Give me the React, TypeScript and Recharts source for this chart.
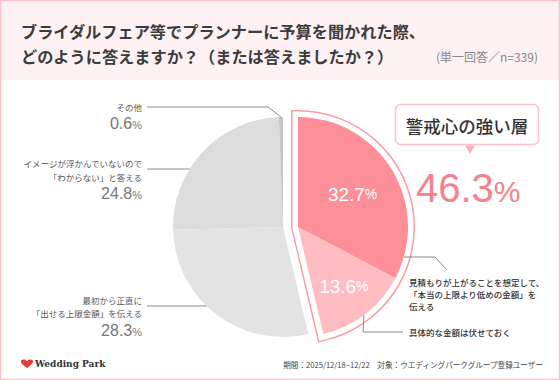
import { PieChart, Pie, Cell } from 'recharts';

// survey answers, clockwise from 12 o'clock
const categories = [
  '本当の上限より低めの金額を伝える',
  '具体的な金額は伏せておく',
  '出せる上限金額を伝える',
  'わからないと答える',
  'その他',
];
const shares = [32.7, 13.6, 28.3, 24.8, 0.6];
const labelText = [
  ['見積もりが上がることを想定して、', '「本当の上限より低めの金額」を', '伝える'],
  ['具体的な金額は伏せておく'],
  ['最初から正直に', '「出せる上限金額」を伝える'],
  ['イメージが浮かんでいないので', '「わからない」と答える'],
  ['その他'],
];
// the first two answers form the highlighted group
const waryCount = 2;
const groupLabel = '警戒心の強い層';
const titleLines = [
  'ブライダルフェア等でプランナーに予算を聞かれた際、',
  'どのように答えますか？（または答えましたか？）',
];
const sampleNote = '(単一回答／n=339)';
const footerNote = '期間：2025/12/18~12/22　対象：ウエディングパークグループ登録ユーザー';
const brand = 'Wedding Park';

const sliceColors = ['#fd8f98', '#ffbcc1', '#e3e3e3', '#dcdcdc', '#c6c6c6'];
const JP = "'Noto Sans CJK JP', sans-serif";
const NUM = "'Liberation Sans', Arial, 'Noto Sans CJK JP', sans-serif";
const RAD = Math.PI / 180;

const CX = 278;
const CY = 222;
const R = 110;
const SHIFT = 15;
const LEFT_X = 142;

// label layout (not data)
const leftLayout: any[] = [
  null,
  null,
  { lineY: 306, textY: [300, 313], pctY: 336 },
  { lineY: 169, textY: [163, 177], pctY: 199 },
  { lineY: 107, elbowX: 268, textY: [107], pctY: 129 },
];
const rightLayout: any[] = [
  { inR: 0.58, startY: 257, via: [435, 257], end: [447, 270], textY: [282, 294, 306] },
  { inR: 0.68, startY: 315, via: [363, 332], end: [403, 332], textY: [332] },
];

const pct = (v: number, big: number, small: number) => [
  <tspan key="n" fontSize={big}>{v.toFixed(1)}</tspan>,
  <tspan key="p" fontSize={small}>%</tspan>,
];

const renderGrayLabel = (p: any) => {
  const lay = leftLayout[p.index];
  if (!lay) return <g />;
  const { cx, cy, outerRadius: r, midAngle } = p;
  let pts: string;
  if (lay.elbowX) {
    const ax = cx + r * Math.cos(-midAngle * RAD);
    const ay = cy + r * Math.sin(-midAngle * RAD);
    pts = `${LEFT_X + 5},${lay.lineY} ${lay.elbowX},${lay.lineY} ${ax},${ay}`;
  } else {
    const ex = cx - Math.sqrt(r * r - (lay.lineY - cy) ** 2);
    pts = `${LEFT_X + 5},${lay.lineY} ${ex},${lay.lineY}`;
  }
  return (
    <g>
      <polyline points={pts} fill="none" stroke="#8a8a8a" strokeWidth={1} />
      {labelText[p.index].map((t, k) => (
        <text key={k} x={LEFT_X} y={lay.textY[k]} textAnchor="end" dominantBaseline="central"
          fontFamily={JP} fontSize={8.5} fill="#555">{t}</text>
      ))}
      <text x={LEFT_X} y={lay.pctY} textAnchor="end" fontFamily={NUM} fill="#777">
        {pct(shares[p.index], 16, 11)}
      </text>
    </g>
  );
};

const renderPinkLabel = (p: any) => {
  const lay = rightLayout[p.index];
  if (!lay) return <g />;
  const { cx, cy, outerRadius: r, midAngle } = p;
  const ix = cx + lay.inR * r * Math.cos(-midAngle * RAD);
  const iy = cy + lay.inR * r * Math.sin(-midAngle * RAD);
  const sx = cx + Math.sqrt(r * r - (lay.startY - cy) ** 2);
  const pts = `${sx},${lay.startY} ${lay.via[0]},${lay.via[1]} ${lay.end[0]},${lay.end[1]}`;
  return (
    <g>
      <text x={ix} y={iy} textAnchor="middle" dominantBaseline="central" fontFamily={NUM} fill="#fff">
        {pct(shares[p.index], 19, 14)}
      </text>
      <polyline points={pts} fill="none" stroke="#8a8a8a" strokeWidth={1} />
      {labelText[p.index].map((t, k) => (
        <text key={k} x={409} y={lay.textY[k]} dominantBaseline="central"
          fontFamily={JP} fontSize={8.5} fontWeight={500} fill="#333">{t}</text>
      ))}
    </g>
  );
};

export default function App() {
  const data = categories.map((name, i) => ({ name, value: shares[i] }));
  const waryTotal = shares.slice(0, waryCount).reduce((a, b) => a + b, 0);
  const restTotal = shares.slice(waryCount).reduce((a, b) => a + b, 0);
  const outline = [
    { name: groupLabel, value: waryTotal },
    { name: 'rest', value: restTotal },
  ];

  return (
    <div style={{ position: 'absolute', left: 0, top: 0, width: 560, height: 380, background: '#fff', overflow: 'hidden' }}>
      <div style={{ position: 'absolute', left: 0, top: 0, width: 560, height: 80, background: '#fdf1f3' }} />
      <div style={{ position: 'absolute', left: 0, top: 0 }}>
        <PieChart width={560} height={380}>
          <Pie data={data} dataKey="value" nameKey="name" cx={CX} cy={CY} outerRadius={R}
            startAngle={90} endAngle={-270} stroke="none" isAnimationActive={false}
            label={renderGrayLabel} labelLine={false}>
            {data.map((d, i) => (
              <Cell key={d.name} fill={i < waryCount ? 'none' : sliceColors[i]} stroke="none" />
            ))}
          </Pie>
          <Pie data={outline} dataKey="value" cx={CX + SHIFT} cy={CY} outerRadius={R}
            startAngle={90} endAngle={-270} isAnimationActive={false}>
            <Cell fill="#fff" stroke="#fa9ca4" strokeWidth={14} />
            <Cell fill="none" stroke="none" />
          </Pie>
          <Pie data={outline} dataKey="value" cx={CX + SHIFT} cy={CY} outerRadius={R}
            startAngle={90} endAngle={-270} isAnimationActive={false}>
            <Cell fill="#fff" stroke="#fff" strokeWidth={11} />
            <Cell fill="none" stroke="none" />
          </Pie>
          <Pie data={data} dataKey="value" nameKey="name" cx={CX + SHIFT} cy={CY} outerRadius={R}
            startAngle={90} endAngle={-270} stroke="none" isAnimationActive={false}
            label={renderPinkLabel} labelLine={false}>
            {data.map((d, i) => (
              <Cell key={d.name} fill={i < waryCount ? sliceColors[i] : 'none'} stroke="none" />
            ))}
          </Pie>
        </PieChart>
      </div>
      <svg width={560} height={380} style={{ position: 'absolute', left: 0, top: 0, pointerEvents: 'none' }}>
        {titleLines.map((t, k) => (
          <text key={k} x={21} y={31 + k * 25} dominantBaseline="central" fontFamily={JP}
            fontSize={16.2} fontWeight={700} fill="#3c3c3c">{t}</text>
        ))}
        <text x={538} y={56} textAnchor="end" dominantBaseline="central" fontFamily={JP}
          fontSize={12} fill="#888">{sampleNote}</text>

        <rect x={395.5} y={104.5} width={143} height={40} rx={5} fill="#fff" stroke="#fbc2c7" strokeWidth={1.5} />
        <text x={467} y={125} textAnchor="middle" dominantBaseline="central" fontFamily={JP}
          fontSize={17.5} fontWeight={500} fill="#333">{groupLabel}</text>
        <polygon points="465,145.5 475,145.5 470,154" fill="#fbb3ba" />
        <text x={416} y={202} fontFamily={NUM} fill="#f7808b">
          {pct(waryTotal, 40, 30)}
        </text>

        <path d="M27 368 C21 364 20 361.5 21.5 360.3 C23 359 25.5 359.5 27 361.2 C28.5 359.5 31 359 32.5 360.3 C34 361.5 33 364 27 368 Z"
          fill="#e8383d" />
        <text x={35} y={364} dominantBaseline="central" fontFamily="'DejaVu Serif', serif"
          fontSize={9} fontWeight={700} fill="#333">{brand}</text>
        <text x={543} y={364} textAnchor="end" dominantBaseline="central" fontFamily={JP}
          fontSize={7.6} fill="#444">{footerNote}</text>

        <rect x={0.5} y={0.5} width={559} height={379} fill="none" stroke="#fbc5ca" strokeWidth={1.5} />
      </svg>
    </div>
  );
}
